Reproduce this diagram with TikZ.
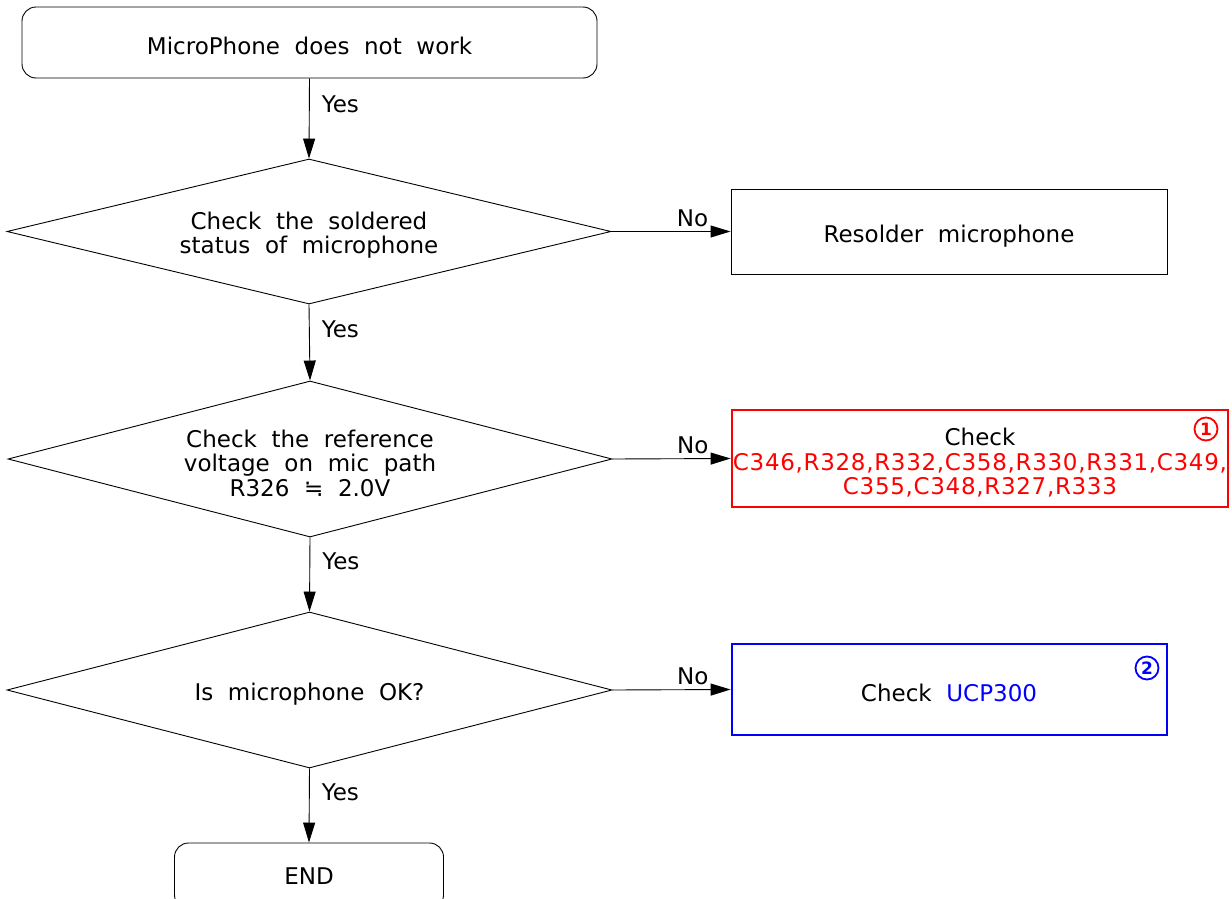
\documentclass[tikz,border=0pt]{standalone}
\usepackage{fontspec}
\setmainfont{DejaVu Sans}[WordSpace=2]
\usetikzlibrary{shapes.geometric,arrows.meta}
\definecolor{refred}{RGB}{255,0,0}
\definecolor{refblue}{RGB}{0,0,255}
\begin{document}
\begin{tikzpicture}[x=1pt,y=-1pt,
  every node/.style={font=\fontsize{23}{24.5}\selectfont},
  termbox/.style={draw,line width=0.9pt,rounded corners=14pt,inner sep=0pt},
  decbox/.style={draw,line width=0.9pt,shape=diamond,aspect=4.17,inner sep=0pt,align=center},
  actbox/.style={draw,line width=0.9pt,inner sep=0pt,align=center},
  hibox/.style={draw,line width=2.8pt,inner sep=0pt,align=center},
  arr/.style={line width=0.9pt,-{Triangle[length=20pt,width=12pt]}},
  yeslbl/.style={pos=0.32,anchor=west,xshift=12pt,inner sep=0pt},
  nolbl/.style={pos=0.68,anchor=south,inner sep=0pt,yshift=4pt},
  circ/.style={circle,draw,line width=1.8pt,minimum size=23pt,inner sep=0pt,font=\bfseries\fontsize{17}{17}\selectfont}
]
\useasboundingbox (0,0) rectangle (1232,899);
\begin{scope}
\clip (0,0) rectangle (1232,899);
% nodes
\node[termbox,minimum width=575pt,minimum height=71pt] (start) at (309.5,42.5) {};
\node (starttxt) at (309.5,46) {MicroPhone does not work};

\node[decbox,minimum width=604pt,minimum height=145pt] (d1) at (309,231.5) {};
\node[align=center] (d1txt) at (309,235) {Check the soldered\\status of microphone};

\node[actbox,minimum width=436pt,minimum height=85pt] (resolder) at (949,231.5) {};
\node (resoldertxt) at (949,236) {Resolder microphone};

\node[decbox,minimum width=604pt,minimum height=156pt] (d2) at (310,459) {};
\node[align=center] (d2txt) at (310,463) {Check the reference\\voltage on mic path\\R326 ≒ 2.0V};

\node[hibox,draw=refred,minimum width=496pt,minimum height=97pt] (redbox) at (980,458.5) {};
\node[align=center] (redtxt) at (980,463) {Check\\\color{refred}\addfontfeatures{LetterSpace=3}C346,R328,R332,C358,R330,R331,C349,\\\color{refred}\addfontfeatures{LetterSpace=3}C355,C348,R327,R333};
\node[circ,draw=refred,text=refred] (c1) at (1206,429) {1};

\node[decbox,minimum width=605pt,minimum height=156pt] (d3) at (309.5,690) {};
\node (d3txt) at (309.5,694) {Is microphone OK?};

\node[hibox,draw=refblue,minimum width=435pt,minimum height=91pt] (bluebox) at (949.5,689.5) {};
\node (bluetxt) at (949,693) {Check \textcolor{refblue}{UCP300}};
\node[circ,draw=refblue,text=refblue] (c2) at (1147,668) {2};

\node[termbox,minimum width=269pt,minimum height=66pt] (endbox) at (309,876) {};
\node (endtxt) at (309,876) {END};

% connectors
\draw[arr] (start.south) -- (d1.north) node[yeslbl] {Yes};
\draw[arr] (d1.south) -- (d2.north) node[yeslbl] {Yes};
\draw[arr] (d2.south) -- (d3.north) node[yeslbl] {Yes};
\draw[arr] (d3.south) -- (endbox.north) node[yeslbl] {Yes};
\draw[arr] (d1.east) -- (resolder.west) node[nolbl] {No};
\draw[arr] (d2.east) -- (redbox.west) node[nolbl] {No};
\draw[arr] (d3.east) -- (bluebox.west) node[nolbl] {No};
\end{scope}
\end{tikzpicture}
\end{document}
